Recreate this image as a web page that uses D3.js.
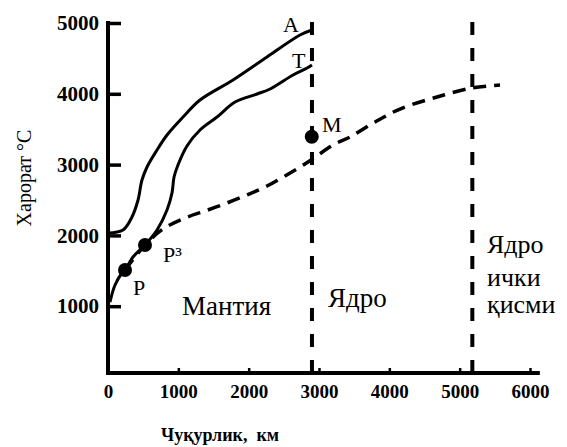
<!DOCTYPE html>
<html>
<head>
<meta charset="utf-8">
<script src="https://cdn.jsdelivr.net/npm/d3@7/dist/d3.min.js"></script>
<style>
  html, body { margin: 0; padding: 0; background: #fff; }
  svg { display: block; }
</style>
</head>
<body>
<svg id="chart" width="567" height="447"></svg>
<script>
// ---- data ----
const depthTicks = [0, 1000, 2000, 3000, 4000, 5000, 6000];
const tempTicks = [1000, 2000, 3000, 4000, 5000];

// curve A (upper solid)
const curveADepth = [0, 213, 341, 427, 483, 555, 697, 839, 1067, 1308, 1778, 2261, 2730, 2900];
const curveATemp  = [2034, 2076, 2260, 2500, 2782, 2966, 3206, 3418, 3672, 3912, 4195, 4520, 4830, 4901];

// curve T (lower solid)
const curveTDepth = [28, 100, 199, 242, 356, 526, 697, 839, 910, 939, 995, 1123, 1308, 1550, 1806, 2119, 2304, 2631, 2830, 2900];
const curveTTemp  = [1059, 1299, 1469, 1511, 1695, 1864, 2076, 2359, 2599, 2825, 2994, 3263, 3489, 3672, 3884, 3997, 4068, 4266, 4364, 4407];

// dashed curve
const dashDepth = [242, 526, 782, 1095, 1380, 1692, 1976, 2261, 2730, 2887, 3200, 3441, 3797, 4152, 4678, 5176, 5574];
const dashTemp  = [1511, 1864, 2090, 2246, 2345, 2458, 2571, 2698, 2966, 3065, 3277, 3390, 3602, 3785, 3955, 4082, 4124];

// boundaries (km)
const boundaries = [2900, 5180];

// marked points
const pointNames = ["P", "P³", "M"];
const pointDepth = [242, 526, 2897];
const pointTemp  = [1511, 1864, 3394];

// annotation labels
const labelText  = ["А", "Т", "M", "P", "P³", "Мантия", "Ядро", "Ядро", "ички", "қисми"];
const labelDepth = [2489, 2616, 3043, 355, 782, 1052, 3128, 5389, 5389, 5389];
const labelTemp  = [4873, 4364, 3460, 1158, 1624, 876, 989, 1751, 1285, 904];
const labelSize  = [22, 22, 22, 22, 22, 27, 27, 26, 26, 26];

const yTitle = "Харорат °С";
const xTitle = "Чуқурлик,  км";

// ---- layout ----
const FONT = '"Liberation Serif", "Times New Roman", serif';
const svg = d3.select("#chart");
const x = d3.scaleLinear().domain([0, 6000]).range([108, 530]);
const y = d3.scaleLinear().domain([0, 5000]).range([377, 23]);
const axisY = 373;       // x-axis baseline position
const axisTop = 22;

const line = d3.line().x(d => x(d[0])).y(d => y(d[1])).curve(d3.curveCatmullRom.alpha(0.5));
const zip = (a, b) => a.map((v, i) => [v, b[i]]);

// vertical boundary dashed lines
svg.selectAll("line.bnd").data(boundaries).join("line")
  .attr("class", "bnd")
  .attr("x1", d => x(d)).attr("x2", d => x(d))
  .attr("y1", axisTop).attr("y2", axisY)
  .attr("stroke", "#000").attr("stroke-width", 4)
  .attr("stroke-dasharray", "13,13");

// curves
svg.append("path").attr("d", line(zip(curveADepth, curveATemp)))
  .attr("fill", "none").attr("stroke", "#000").attr("stroke-width", 3);
svg.append("path").attr("d", line(zip(curveTDepth, curveTTemp)))
  .attr("fill", "none").attr("stroke", "#000").attr("stroke-width", 3);
svg.append("path").attr("d", line(zip(dashDepth, dashTemp)))
  .attr("fill", "none").attr("stroke", "#000").attr("stroke-width", 3.5)
  .attr("stroke-dasharray", "13,8");

// points
svg.selectAll("circle.pt").data(pointNames).join("circle")
  .attr("class", "pt")
  .attr("cx", (d, i) => x(pointDepth[i]))
  .attr("cy", (d, i) => y(pointTemp[i]))
  .attr("r", 7).attr("fill", "#000");

// axes
const xAxis = d3.axisBottom(x).tickValues(depthTicks).tickFormat(d3.format("d"))
  .tickSize(-5).tickPadding(12);
const gx = svg.append("g").attr("transform", `translate(0,${axisY})`).call(xAxis);
gx.select(".domain").remove();
gx.selectAll(".tick line").attr("stroke", "#000").attr("stroke-width", 2.5);
gx.selectAll(".tick text").style("font-size", "19px").style("font-weight", "bold")
  .style("font-family", FONT).attr("fill", "#000");
gx.append("line").attr("x1", x(0) - 2).attr("x2", x(6140)).attr("y1", 0).attr("y2", 0)
  .attr("stroke", "#000").attr("stroke-width", 4);

const yAxis = d3.axisLeft(y).tickValues(tempTicks).tickFormat(d3.format("d"))
  .tickSize(-13).tickPadding(9);
const gy = svg.append("g").attr("transform", `translate(${x(0)},0)`).call(yAxis);
gy.select(".domain").remove();
gy.selectAll(".tick line").attr("stroke", "#000").attr("stroke-width", 3.5);
gy.selectAll(".tick text").style("font-size", "21px").style("font-weight", "bold")
  .style("font-family", FONT).attr("fill", "#000");
gy.append("line").attr("x1", 0).attr("x2", 0).attr("y1", axisY + 2).attr("y2", y(5000) - 2)
  .attr("stroke", "#000").attr("stroke-width", 4);

// labels
svg.selectAll("text.lbl").data(labelText).join("text")
  .attr("class", "lbl")
  .attr("x", (d, i) => x(labelDepth[i]))
  .attr("y", (d, i) => y(labelTemp[i]))
  .style("font-family", FONT)
  .style("font-size", (d, i) => labelSize[i] + "px")
  .text(d => d);

// axis titles
svg.append("text")
  .attr("transform", "translate(31,178) rotate(-90)")
  .attr("text-anchor", "middle")
  .style("font-family", FONT)
  .style("font-size", "20px")
  .text(yTitle);
svg.append("text")
  .attr("x", 220).attr("y", 441)
  .attr("text-anchor", "middle")
  .style("font-family", FONT)
  .style("font-size", "18px").style("font-weight", "bold")
  .style("white-space", "pre")
  .text(xTitle);
</script>
</body>
</html>
